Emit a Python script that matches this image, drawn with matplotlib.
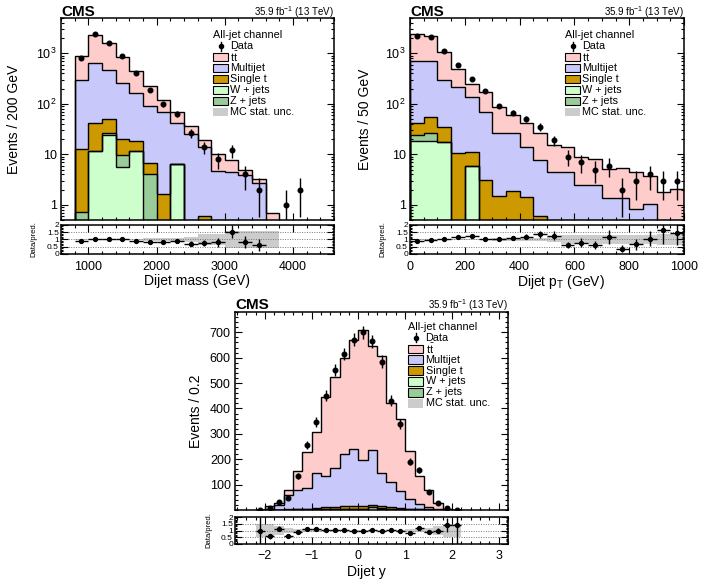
import numpy as np
import matplotlib
matplotlib.use("Agg")
import matplotlib.pyplot as plt
from matplotlib.patches import Rectangle
from matplotlib.ticker import MultipleLocator, FixedLocator, FixedFormatter, LogLocator, NullFormatter

plt.rcParams['font.family'] = ['Liberation Sans', 'DejaVu Sans']
plt.rcParams['mathtext.fontset'] = 'custom'
plt.rcParams['mathtext.rm'] = 'Liberation Sans'
plt.rcParams['mathtext.it'] = 'Liberation Sans:italic'
plt.rcParams['mathtext.bf'] = 'Liberation Sans:bold'

# ---------------- Dijet mass ----------------
mass_edges = [800, 1000, 1200, 1400, 1600, 1800, 2000, 2200, 2400, 2600, 2800,
              3000, 3200, 3400, 3600, 3800, 4000, 4200]
mass_data = [795, 2380, 1600, 880, 414, 190, 98, 63, 26, 14, 8, 12, 4, 2, 0, 1, 2]
mass_wjets = [0, 11.8, 24, 5.5, 11.8, 0, 0, 6.3, 0, 0, 0, 0, 0, 0, 0, 0, 0]
mass_zjets = [0.73, 0, 3, 4.2, 0, 4.07, 0, 0, 0, 0, 0, 0, 0, 0, 0, 0, 0]
mass_singlet = [11.9, 29.2, 22, 10.1, 6.6, 2.7, 1.64, 0, 0, 0.6, 0, 0, 0, 0, 0, 0, 0]
mass_multijet = [284, 593, 419, 242, 143, 83, 66, 35, 25, 13.4, 4.75, 4.4, 3.9, 2.75, 0, 0, 0]
mass_tt = [573, 1696, 1132, 598, 284, 140, 54, 29, 11, 5, 5.25, 3.4, 0.9, 0.45, 0.68, 0, 0]
mass_mcunc = [0.03, 0.02, 0.03, 0.04, 0.05, 0.07, 0.09, 0.12, 0.15, 0.36, 0.36,
              0.6, 0.6, 0.6, 0.6, 0, 0]

# ---------------- Dijet pT ----------------
pt_edges = [0, 50, 100, 150, 200, 250, 300, 350, 400, 450, 500, 550, 600, 650,
            700, 750, 800, 850, 900, 950, 1000]
pt_data = [2200, 2130, 1110, 588, 310, 182, 91, 67, 50, 35, 19, 9, 7, 5, 6, 2, 3, 4, 3, 3]
pt_wjets = [18.6, 18, 17.6, 0, 6.0, 0, 0, 0, 0, 0, 0, 0, 0, 0, 0, 0, 0, 0, 0, 0]
pt_zjets = [5.4, 9, 0, 0, 0, 0, 0, 0, 0, 0, 0, 0, 0, 0, 0, 0, 0, 0, 0, 0]
pt_singlet = [18, 27, 17.4, 10.5, 5.3, 3.1, 1.5, 1.9, 1.45, 0.6, 0, 0, 0, 0, 0, 0, 0, 0, 0, 0]
pt_multijet = [663, 651, 262, 201.5, 127.7, 66.9, 25.5, 25.1, 12.55, 7.1, 4.4, 4.4,
               2.47, 2.47, 1.35, 1.35, 0.81, 1.04, 0, 0]
pt_tt = [1695, 1465, 783, 288, 111, 102, 60, 33, 28, 18.3, 10.6, 9.6, 6.5, 5.5,
         3.85, 3.95, 3.7, 2.76, 1.8, 2.07]
pt_mcunc = [0.02, 0.02, 0.03, 0.04, 0.05, 0.06, 0.07, 0.08, 0.1, 0.12, 0.15, 0.3,
            0.3, 0.3, 0.3, 0.3, 0.3, 0.3, 0.4, 0.4]

# ---------------- Dijet y ----------------
y_edges = [-2.2, -2.0, -1.8, -1.6, -1.4, -1.2, -1.0, -0.8, -0.6, -0.4, -0.2, 0.0,
           0.2, 0.4, 0.6, 0.8, 1.0, 1.2, 1.4, 1.6, 1.8, 2.0, 2.2]
y_data = [1, 8, 31, 48, 135, 255, 347, 450, 550, 615, 670, 700, 664, 585, 431, 339,
          191, 158, 70, 26, 8, 1]
y_wjets = [0, 0.1, 0.3, 0.5, 1, 1.5, 2, 2, 3, 3, 3, 3, 10, 3, 3, 2, 1.5, 1, 0.5, 0.3, 0.1, 0]
y_zjets = [0, 0.1, 0.3, 0.5, 1, 1, 1.5, 2, 2, 2.5, 2.5, 2.5, 2.5, 3, 2, 1.5, 1, 1, 0.5, 0.2, 0.1, 0]
y_singlet = [0, 0.2, 0.5, 1, 2, 3, 4, 8, 6, 9, 10, 11, 9, 10, 7, 5, 3, 2, 1, 0.5, 0.2, 0]
y_multijet = [1, 4.6, 16.9, 59, 76, 79.5, 136.5, 123, 156, 204.5, 223.5, 180.5, 213.5,
              129, 97, 66.5, 36.5, 21, 10, 4, 1.6, 0.5]
y_tt = [0, 9, 9, 19, 75, 143, 163, 310, 357, 378, 431, 513, 410, 460, 314, 282, 191,
        107, 68, 21.5, 3.7, 0.2]
y_mcunc = [0.5, 0.5, 0.3, 0.2, 0.12, 0.1, 0.08, 0.06, 0.05, 0.05, 0.04, 0.04, 0.05,
           0.05, 0.06, 0.07, 0.1, 0.12, 0.2, 0.3, 0.5, 0.5]

COLORS = ['#ccffcc', '#99cc99', '#cc9900', '#c8c8fa', '#ffcccc']
UNC_COLOR = '#cccccc'

FIG_W, FIG_H = 704, 579
fig = plt.figure(figsize=(FIG_W / 100, FIG_H / 100), dpi=100)


def add_axes_px(left, top, right, bottom):
    return fig.add_axes([left / FIG_W, 1 - bottom / FIG_H,
                         (right - left) / FIG_W, (bottom - top) / FIG_H])


def style(ax):
    ax.tick_params(which='both', direction='in', top=True, right=True, width=0.8)
    ax.tick_params(which='major', length=5)
    ax.tick_params(which='minor', length=2.5)
    for s in ax.spines.values():
        s.set_linewidth(1.1)


def draw_main(ax, edges, comps, log):
    edges = np.asarray(edges, float)
    floor = 1e-3 if log else 0.0
    cum = np.zeros(len(edges) - 1)
    for vals, col in zip(comps, COLORS):
        bottom = cum.copy()
        cum = cum + np.asarray(vals, float)
        ax.stairs(np.maximum(cum, floor), edges, baseline=np.maximum(bottom, floor),
                  fill=True, facecolor=col, edgecolor='none', linewidth=0)
    cum = np.zeros(len(edges) - 1)
    for vals in comps:
        cum = cum + np.asarray(vals, float)
        ax.stairs(np.maximum(cum, floor), edges, baseline=floor, fill=False,
                  color='black', linewidth=1.0)
    return cum


def draw_data(ax, edges, data, log):
    edges = np.asarray(edges, float)
    data = np.asarray(data, float)
    c = 0.5 * (edges[1:] + edges[:-1])
    m = data > 0
    err = np.sqrt(data[m])
    low = np.minimum(err, data[m] - 1e-3) if log else err
    ax.errorbar(c[m], data[m], yerr=[low, err], fmt='o', color='black', ms=3.3,
                elinewidth=1.0, capsize=0, zorder=5)


def draw_ratio(ax, edges, data, total, unc):
    edges = np.asarray(edges, float)
    data = np.asarray(data, float)
    unc = np.asarray(unc, float)
    c = 0.5 * (edges[1:] + edges[:-1])
    hw = 0.5 * (edges[1:] - edges[:-1])
    ax.stairs(1 + unc, edges, baseline=1 - unc, fill=True, facecolor=UNC_COLOR,
              edgecolor='none', linewidth=0)
    for yv in (0.5, 1.0, 1.5):
        ax.axhline(yv, ls=(0, (1, 1.5)), color='#777777', lw=0.7, zorder=1)
    m = (data > 0) & (total > 0)
    r = data[m] / total[m]
    re = np.sqrt(data[m]) / total[m]
    ax.errorbar(c[m], r, yerr=re, xerr=hw[m], fmt='o', color='black', ms=2.8,
                elinewidth=1.0, capsize=0, zorder=5)
    ax.set_ylim(0, 2)
    ax.yaxis.set_major_locator(FixedLocator([0, 0.5, 1, 1.5, 2]))
    ax.yaxis.set_major_formatter(FixedFormatter(['0', '0.5', '1', '1.5', '2']))
    ax.yaxis.set_minor_locator(MultipleLocator(0.1))
    ax.tick_params(axis='y', labelsize=6, pad=1.5)
    ax.tick_params(axis='x', labelsize=9, pad=5)
    ax.tick_params(axis='y', which='minor', length=1.5)


def draw_legend(ax, x_px, y0_px, dy_px, fs=7.8, pw=15, ph=8.5, gap=2.5):
    bb = ax.get_position()
    L = bb.x0 * FIG_W
    T = (1 - bb.y1) * FIG_H
    Wp = bb.width * FIG_W
    Hp = bb.height * FIG_H
    fx = lambda x: (x - L) / Wp
    fy = lambda y: 1 - (y - T) / Hp
    ax.text(fx(x_px), fy(y0_px), 'All-jet channel', transform=ax.transAxes,
            fontsize=fs, va='center', ha='left')
    labels = ['Data', r'$\mathrm{t\bar{t}}$', 'Multijet', 'Single t', 'W + jets',
              'Z + jets', 'MC stat. unc.']
    fills = [None, COLORS[4], COLORS[3], COLORS[2], COLORS[0], COLORS[1], UNC_COLOR]
    for i, (lab, col) in enumerate(zip(labels, fills)):
        yy = y0_px + (i + 1) * dy_px
        if col is None:
            xc = fx(x_px + pw / 2)
            ax.plot([xc, xc], [fy(yy - 4.5), fy(yy + 4.5)], color='black', lw=1.0,
                    transform=ax.transAxes, clip_on=False)
            ax.plot([xc], [fy(yy)], 'o', color='black', ms=3.0, transform=ax.transAxes,
                    clip_on=False)
        else:
            ec = 'none' if col == UNC_COLOR else 'black'
            ax.add_patch(Rectangle((fx(x_px), fy(yy + ph / 2)), pw / Wp, ph / Hp,
                                   transform=ax.transAxes, facecolor=col,
                                   edgecolor=ec, linewidth=0.8, clip_on=False))
        ax.text(fx(x_px + pw + gap), fy(yy), lab, transform=ax.transAxes,
                fontsize=fs, va='center', ha='left')


def headers(ax, up_px):
    h = ax.get_position().height * FIG_H
    ax.text(0.0, 1 + up_px / h, 'CMS', transform=ax.transAxes, fontsize=11,
            fontweight='bold', va='baseline', ha='left')
    ax.text(1.0, 1 + up_px / h, r'35.9 fb$^{-1}$ (13 TeV)', transform=ax.transAxes,
            fontsize=7, va='baseline', ha='right')


def log_axis(ax):
    ax.set_yscale('log')
    ax.set_ylim(0.5, 5000)
    ax.yaxis.set_major_locator(FixedLocator([1, 10, 100, 1000]))
    ax.yaxis.set_major_formatter(FixedFormatter(['1', '10', r'10$^{2}$', r'10$^{3}$']))
    ax.yaxis.set_minor_locator(LogLocator(base=10, subs=np.arange(2, 10)))
    ax.yaxis.set_minor_formatter(NullFormatter())
    ax.tick_params(axis='y', labelsize=9, pad=3)


# ===== Panel 1: dijet mass =====
ax1 = add_axes_px(61, 18, 334, 220)
r1 = add_axes_px(61, 225, 334, 254)
for a in (ax1, r1):
    style(a)
tot1 = draw_main(ax1, mass_edges, [mass_wjets, mass_zjets, mass_singlet, mass_multijet, mass_tt], True)
draw_data(ax1, mass_edges, mass_data, True)
log_axis(ax1)
for a in (ax1, r1):
    a.set_xlim(600, 4600)
    a.xaxis.set_major_locator(MultipleLocator(1000))
    a.xaxis.set_minor_locator(MultipleLocator(200))
ax1.tick_params(labelbottom=False)
ax1.set_ylabel('Events / 200 GeV', fontsize=10)
ax1.yaxis.set_label_coords(-0.148, 0.5)
draw_ratio(r1, mass_edges, np.asarray(mass_data, float), tot1, mass_mcunc)
r1.set_xlabel('Dijet mass (GeV)', fontsize=10)
r1.xaxis.set_label_coords(0.5, -0.68)
r1.set_ylabel('Data/pred.', fontsize=5.5)
r1.yaxis.set_label_coords(-0.086, 0.5)
headers(ax1, 1.8)
draw_legend(ax1, 213, 35, 11)

# ===== Panel 2: dijet pT =====
ax2 = add_axes_px(410, 18, 684, 220)
r2 = add_axes_px(410, 225, 684, 254)
for a in (ax2, r2):
    style(a)
tot2 = draw_main(ax2, pt_edges, [pt_wjets, pt_zjets, pt_singlet, pt_multijet, pt_tt], True)
draw_data(ax2, pt_edges, pt_data, True)
log_axis(ax2)
for a in (ax2, r2):
    a.set_xlim(0, 1000)
    a.xaxis.set_major_locator(MultipleLocator(200))
    a.xaxis.set_minor_locator(MultipleLocator(50))
ax2.tick_params(labelbottom=False)
ax2.set_ylabel('Events / 50 GeV', fontsize=10)
ax2.yaxis.set_label_coords(-0.137, 0.5)
draw_ratio(r2, pt_edges, np.asarray(pt_data, float), tot2, pt_mcunc)
r2.set_xlabel(r'Dijet p$_{\mathrm{T}}$ (GeV)', fontsize=10)
r2.xaxis.set_label_coords(0.55, -0.66)
r2.set_ylabel('Data/pred.', fontsize=5.5)
r2.yaxis.set_label_coords(-0.086, 0.5)
headers(ax2, 1.8)
draw_legend(ax2, 565, 35, 11)

# ===== Panel 3: dijet y =====
ax3 = add_axes_px(235, 312, 508, 510)
r3 = add_axes_px(235, 517, 508, 544)
for a in (ax3, r3):
    style(a)
tot3 = draw_main(ax3, y_edges, [y_wjets, y_zjets, y_singlet, y_multijet, y_tt], False)
draw_data(ax3, y_edges, y_data, False)
ax3.set_ylim(0, 780)
ax3.yaxis.set_major_locator(FixedLocator([100, 200, 300, 400, 500, 600, 700]))
ax3.yaxis.set_minor_locator(MultipleLocator(20))
ax3.tick_params(axis='y', labelsize=9, pad=3)
for a in (ax3, r3):
    a.set_xlim(-2.64, 3.2)
    a.xaxis.set_major_locator(MultipleLocator(1))
    a.xaxis.set_minor_locator(MultipleLocator(0.2))
ax3.tick_params(labelbottom=False)
ax3.set_ylabel('Events / 0.2', fontsize=10)
ax3.yaxis.set_label_coords(-0.119, 0.5)
draw_ratio(r3, y_edges, np.asarray(y_data, float), tot3, y_mcunc)
r3.set_xticks([-2, -1, 0, 1, 2, 3])
r3.set_xticklabels(['\u22122', '\u22121', '0', '1', '2', '3'])
r3.tick_params(axis='x', labelsize=9, pad=4)
r3.set_xlabel('Dijet y', fontsize=10)
r3.xaxis.set_label_coords(0.48, -0.78)
r3.set_ylabel('Data/pred.', fontsize=5.5)
r3.yaxis.set_label_coords(-0.083, 0.5)
headers(ax3, 3.0)
draw_legend(ax3, 408, 327, 10.9)

fig.savefig('out.png', dpi=100)
